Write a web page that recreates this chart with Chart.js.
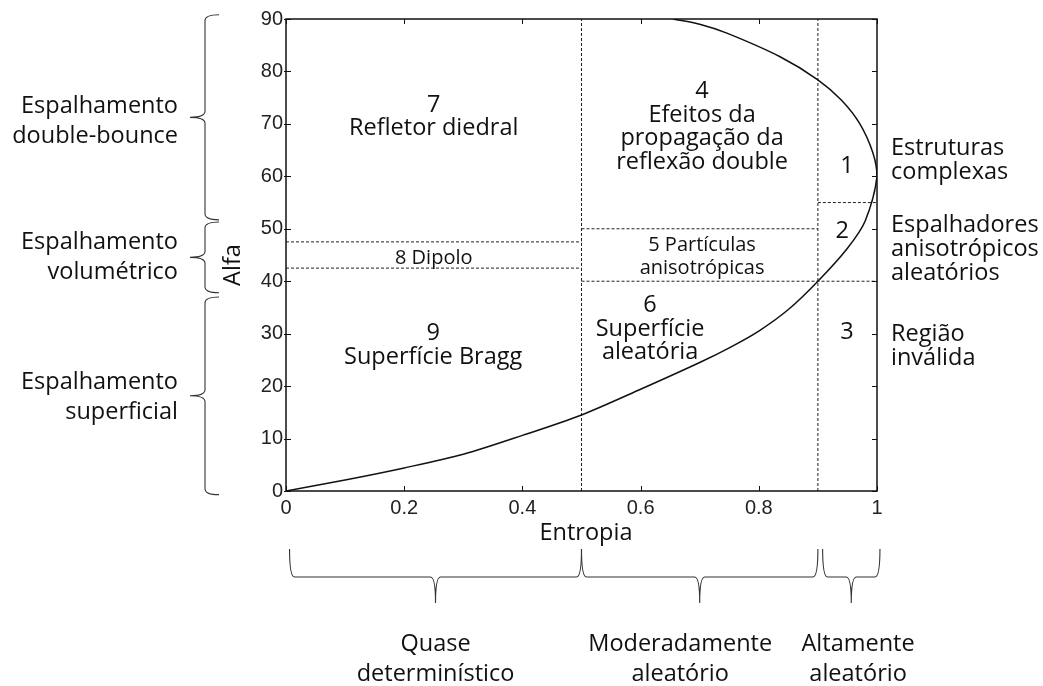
<!DOCTYPE html>
<html>
<head>
<meta charset="utf-8">
<title>Plano H-Alfa</title>
<script src="https://cdn.jsdelivr.net/npm/chart.js@4.4.1/dist/chart.umd.min.js"></script>
<style>
    html, body { margin: 0; padding: 0; background: #ffffff; }
    #wrap { width: 1043px; height: 686px; }
</style>
</head>
<body>
<div id="wrap"><canvas id="haChart" width="1043" height="686"></canvas></div>
<script>
// Curva limite do plano H-alfa (entropia, alfa)
const curveEntropy = [0, 0.1, 0.2, 0.3, 0.4, 0.5, 0.6, 0.7, 0.75, 0.8, 0.85, 0.9, 0.95, 0.98, 1,
    0.993, 0.971, 0.94, 0.9, 0.836, 0.746, 0.7, 0.655];
const curveAlpha = [0, 2.1, 4.4, 7.0, 10.6, 14.5, 19.4, 24.5, 27.3, 30.5, 34.6, 40, 46.3, 51.5, 60,
    64.5, 70, 74.5, 78.4, 82.8, 87.3, 89, 90];

// Limites das zonas (linhas tracejadas)
const zoneLimitsEntropy = [0.5, 0.9];
const dividerStart = [0, 0, 0.5, 0.5, 0.9];
const dividerEnd = [0.5, 0.5, 0.9, 1, 1];
const dividerAlpha = [47.5, 42.5, 50, 40, 55];

// Eixos
const entropyTicks = [0, 0.2, 0.4, 0.6, 0.8, 1];
const alphaMin = 0;
const alphaMax = 90;

// Rótulos das regiões (dentro do gráfico)
const regionLines = [
    ['7', 'Refletor diedral'],
    ['4', 'Efeitos da', 'propagação da', 'reflexão double'],
    ['1'],
    ['2'],
    ['5 Partículas', 'anisotrópicas'],
    ['8 Dipolo'],
    ['6', 'Superfície', 'aleatória'],
    ['3'],
    ['9', 'Superfície Bragg']
];
const regionEntropy = [0.25, 0.704, 0.949, 0.941, 0.704, 0.25, 0.616, 0.949, 0.249];
const regionAlpha = [73.6, 76.2, 62.0, 49.5, 46.8, 44.3, 35.4, 30.2, 30.0];
const regionSmall = [false, false, false, false, true, true, false, false, false];

// Classes de espalhamento (eixo alfa) e de aleatoriedade (eixo entropia)
const scatterClasses = [['Espalhamento', 'double-bounce'], ['Espalhamento', 'volumétrico'], ['Espalhamento', 'superficial']];
const scatterBraceTop = [90.8, 51.3, 37.0];
const scatterBraceBottom = [51.7, 37.8, -0.7];
const scatterLabelAlpha = [70.5, 44.6, 17.8];

const randomClasses = [['Quase', 'determinístico'], ['Moderadamente', 'aleatório'], ['Altamente', 'aleatório']];
const randomBraceStart = [0.006, 0.5, 0.908];
const randomBraceEnd = [0.5, 0.9, 1.005];
const randomLabelEntropy = [0.253, 0.667, 0.968];

// Mecanismos indicados à direita
const mechanismLines = [['Estruturas', 'complexas'], ['Espalhadores', 'anisotrópicos', 'aleatórios'], ['Região', 'inválida']];
const mechanismAlpha = [63.1, 46.0, 27.6];

const INK = '#111111';
const LABEL_FONT = '"Open Sans", "Noto Sans", sans-serif';
const TICK_FONT = '"Liberation Sans", Arial, sans-serif';

function buildDatasets() {
    const sets = [{
        label: 'Curva limite',
        data: curveEntropy.map((h, i) => ({ x: h, y: curveAlpha[i] })),
        borderColor: INK,
        borderWidth: 1.5,
        showLine: true,
        pointRadius: 0,
        tension: 0.3
    }];
    zoneLimitsEntropy.forEach(h => {
        sets.push({
            data: [{ x: h, y: alphaMin }, { x: h, y: alphaMax }],
            borderColor: '#222222',
            borderWidth: 1,
            borderDash: [3, 2],
            showLine: true,
            pointRadius: 0
        });
    });
    dividerAlpha.forEach((a, i) => {
        sets.push({
            data: [{ x: dividerStart[i], y: a }, { x: dividerEnd[i], y: a }],
            borderColor: '#222222',
            borderWidth: 1,
            borderDash: [3, 2],
            showLine: true,
            pointRadius: 0
        });
    });
    return sets;
}

// Escreve um bloco de linhas centrado verticalmente em yc
function drawBlock(ctx, lines, x, yc, gap) {
    const y0 = yc - (lines.length - 1) * gap / 2;
    lines.forEach((t, i) => ctx.fillText(t, x, y0 + i * gap));
}

// Chave vertical com bico para a esquerda
function verticalBrace(ctx, x0, yT, yB) {
    const r = 14, d = 15, q = 6;
    const yM = (yT + yB) / 2;
    ctx.beginPath();
    ctx.moveTo(x0 + r, yT);
    ctx.quadraticCurveTo(x0, yT, x0, yT + q);
    ctx.lineTo(x0, yM - q);
    ctx.quadraticCurveTo(x0, yM, x0 - d, yM);
    ctx.quadraticCurveTo(x0, yM, x0, yM + q);
    ctx.lineTo(x0, yB - q);
    ctx.quadraticCurveTo(x0, yB, x0 + r, yB);
    ctx.stroke();
}

// Chave horizontal com bico para baixo
function horizontalBrace(ctx, xL, xR, yTop, yLine, yTip) {
    const q = 5;
    const xM = (xL + xR) / 2;
    ctx.beginPath();
    ctx.moveTo(xL, yTop);
    ctx.quadraticCurveTo(xL, yLine, xL + q, yLine);
    ctx.lineTo(xM - q, yLine);
    ctx.quadraticCurveTo(xM, yLine, xM, yTip);
    ctx.quadraticCurveTo(xM, yLine, xM + q, yLine);
    ctx.lineTo(xR - q, yLine);
    ctx.quadraticCurveTo(xR, yLine, xR, yTop);
    ctx.stroke();
}

const decorPlugin = {
    id: 'haDecor',
    afterDraw(chart) {
        const ctx = chart.ctx;
        const area = chart.chartArea;
        const xs = chart.scales.x;
        const ys = chart.scales.y;
        ctx.save();

        // Moldura e marcas internas
        ctx.strokeStyle = INK;
        ctx.lineWidth = 1.5;
        ctx.strokeRect(area.left, area.top, area.right - area.left, area.bottom - area.top);
        ctx.lineWidth = 1;
        const tk = 5;
        xs.ticks.forEach(t => {
            const px = Math.round(xs.getPixelForValue(t.value)) + 0.5;
            ctx.beginPath();
            ctx.moveTo(px, area.bottom); ctx.lineTo(px, area.bottom - tk);
            ctx.moveTo(px, area.top); ctx.lineTo(px, area.top + tk);
            ctx.stroke();
        });
        ys.ticks.forEach(t => {
            const py = Math.round(ys.getPixelForValue(t.value)) + 0.5;
            ctx.beginPath();
            ctx.moveTo(area.left - 2, py); ctx.lineTo(area.left + tk, py);
            ctx.moveTo(area.right, py); ctx.lineTo(area.right - tk, py);
            ctx.stroke();
        });

        ctx.fillStyle = INK;
        ctx.textBaseline = 'middle';

        // Regiões
        ctx.textAlign = 'center';
        regionLines.forEach((lines, i) => {
            const small = regionSmall[i];
            ctx.font = (small ? '20px ' : '23.5px ') + LABEL_FONT;
            const gap = small ? 22.5 : 23.5;
            const x = xs.getPixelForValue(regionEntropy[i]);
            const y = ys.getPixelForValue(regionAlpha[i]);
            lines.forEach((t, k) => ctx.fillText(t, x, y + k * gap));
        });

        // Títulos dos eixos
        ctx.font = '23.5px ' + LABEL_FONT;
        ctx.fillText('Entropia', 586, 533);
        ctx.save();
        ctx.translate(233, 265);
        ctx.rotate(-Math.PI / 2);
        ctx.fillText('Alfa', 0, 0);
        ctx.restore();

        // Mecanismos à direita
        ctx.textAlign = 'left';
        mechanismLines.forEach((lines, i) => {
            drawBlock(ctx, lines, area.right + 14, ys.getPixelForValue(mechanismAlpha[i]), 24);
        });

        // Classes de espalhamento à esquerda
        ctx.textAlign = 'right';
        ctx.strokeStyle = '#333333';
        ctx.lineWidth = 1.1;
        scatterClasses.forEach((lines, i) => {
            verticalBrace(ctx, 205, ys.getPixelForValue(scatterBraceTop[i]), ys.getPixelForValue(scatterBraceBottom[i]));
            drawBlock(ctx, lines, 178, ys.getPixelForValue(scatterLabelAlpha[i]), 30);
        });

        // Classes de aleatoriedade abaixo
        ctx.textAlign = 'center';
        randomClasses.forEach((lines, i) => {
            const xL = xs.getPixelForValue(randomBraceStart[i]);
            const xR = xs.getPixelForValue(randomBraceEnd[i]);
            horizontalBrace(ctx, xL, xR, 549, 577, 603);
            drawBlock(ctx, lines, xs.getPixelForValue(randomLabelEntropy[i]), 659, 30);
        });

        ctx.restore();
    }
};

new Chart(document.getElementById('haChart'), {
    type: 'scatter',
    data: { datasets: buildDatasets() },
    options: {
        responsive: false,
        animation: false,
        layout: { padding: { left: 226, top: 19, right: 166, bottom: 165 } },
        plugins: {
            legend: { display: false },
            tooltip: { enabled: false }
        },
        scales: {
            x: {
                type: 'linear',
                min: 0,
                max: 1,
                afterFit: scale => { scale.height = 30; },
                afterBuildTicks: scale => { scale.ticks = entropyTicks.map(v => ({ value: v })); },
                grid: { display: false, drawTicks: false },
                border: { display: false },
                ticks: {
                    padding: 5,
                    color: '#222222',
                    font: { family: TICK_FONT, size: 20 },
                    callback: v => (v === 0 || v === 1) ? String(v) : v.toFixed(1)
                }
            },
            y: {
                type: 'linear',
                min: alphaMin,
                max: alphaMax,
                afterFit: scale => { scale.width = 60; },
                grid: { display: false, drawTicks: false },
                border: { display: false },
                ticks: {
                    stepSize: 10,
                    padding: 3,
                    color: '#222222',
                    font: { family: TICK_FONT, size: 20 }
                }
            }
        }
    },
    plugins: [decorPlugin]
});
</script>
</body>
</html>
